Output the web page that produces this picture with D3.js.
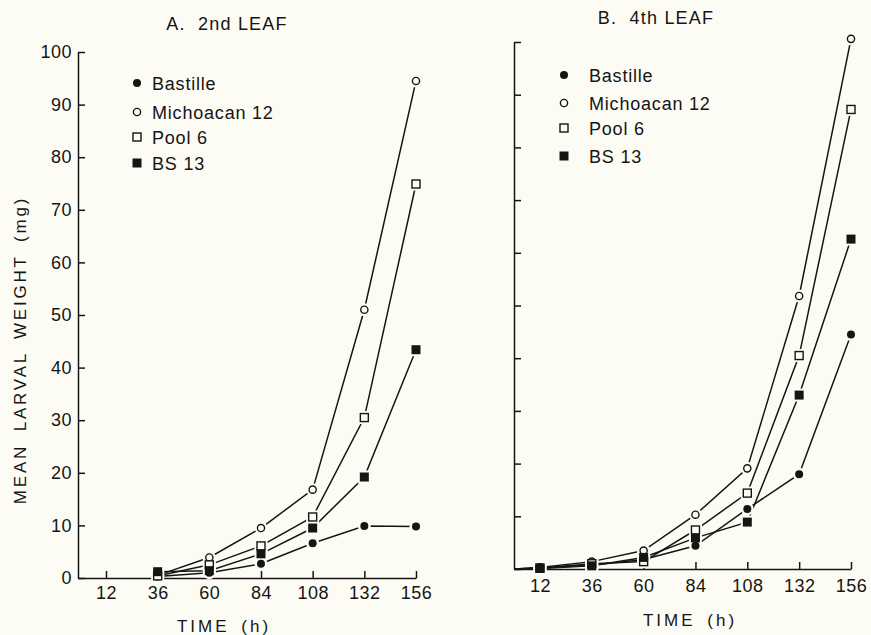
<!DOCTYPE html>
<html>
<head>
<meta charset="utf-8">
<script src="https://cdn.jsdelivr.net/npm/d3@7"></script>
<style>
  html, body { margin: 0; padding: 0; background: #fdfcf4; }
  svg { display: block; }
  text { font-family: "Liberation Sans", Arial, sans-serif; fill: #151515; }
  .tick text { font-size: 18px; letter-spacing: 0.5px; }
  .domain, .tick line { stroke: #151515; stroke-width: 1.5px; }
</style>
</head>
<body>
<svg id="chart" width="871" height="635"></svg>
<script>
// Mean larval weight (mg) over time (h) on two leaf positions
const seriesNames = ["Bastille", "Michoacan 12", "Pool 6", "BS 13"];
const symbolKinds = ["dot", "circle", "square", "filledSquare"];
const xTickValues = [12, 36, 60, 84, 108, 132, 156];
const yTickValues = [0, 10, 20, 30, 40, 50, 60, 70, 80, 90, 100];

// A. 2nd leaf
const leaf2Times = [36, 60, 84, 108, 132, 156];
const leaf2Bastille = [0.3, 1.0, 2.7, 6.6, 9.9, 9.8];
const leaf2Michoacan = [0.5, 3.9, 9.5, 16.8, 51.0, 94.5];
const leaf2Pool6 = [0.4, 2.5, 6.1, 11.6, 30.5, 74.9];
const leaf2BS13 = [1.2, 1.4, 4.6, 9.5, 19.2, 43.4];

// B. 4th leaf (lines start from the origin)
const leaf4Times = [0, 12, 36, 60, 84, 108, 132, 156];
const leaf4Bastille = [0, 0.2, 0.7, 1.8, 4.4, 11.4, 18.0, 44.5];
const leaf4Michoacan = [0, 0.3, 1.4, 3.5, 10.3, 19.1, 51.8, 100.6];
const leaf4Pool6 = [0, 0.2, 1.0, 1.4, 7.4, 14.4, 40.5, 87.2];
const leaf4BS13 = [0, 0.1, 0.6, 2.2, 5.9, 8.9, 33.0, 62.6];

const BG = "#fdfcf4";
const INK = "#151515";
const svg = d3.select("#chart");

const panels = [
  {
    title: "A.  2nd LEAF", titleX: 227, titleY: 30,
    times: leaf2Times,
    values: [leaf2Bastille, leaf2Michoacan, leaf2Pool6, leaf2BS13],
    xRange: [78, 416], xDomain: [-1, 156], yRange: [578, 52],
    showYLabels: true, xPad: 8,
    legend: { symX: 137, textX: 152, rows: [83, 112, 137, 163] },
    xLabelX: 224, xLabelY: 632
  },
  {
    title: "B.  4th LEAF", titleX: 656, titleY: 24,
    times: leaf4Times,
    values: [leaf4Bastille, leaf4Michoacan, leaf4Pool6, leaf4BS13],
    xRange: [514, 851], xDomain: [0, 156], yRange: [569, 42],
    showYLabels: false, xPad: 10,
    legend: { symX: 564, textX: 589, rows: [75, 103, 128, 156] },
    xLabelX: 690, xLabelY: 626
  }
];

function drawSymbol(g, kind, cx, cy, halo) {
  const s = 8;
  if (halo) {
    if (kind === "dot" || kind === "circle") {
      g.append("circle").attr("cx", cx).attr("cy", cy).attr("r", 6.5).attr("fill", BG);
    } else {
      g.append("rect").attr("x", cx - s / 2 - 2.5).attr("y", cy - s / 2 - 2.5)
        .attr("width", s + 5).attr("height", s + 5).attr("fill", BG);
    }
    return;
  }
  if (kind === "dot") {
    g.append("circle").attr("cx", cx).attr("cy", cy).attr("r", 4).attr("fill", INK);
  } else if (kind === "circle") {
    g.append("circle").attr("cx", cx).attr("cy", cy).attr("r", 3.6)
      .attr("fill", BG).attr("stroke", INK).attr("stroke-width", 1.4);
  } else if (kind === "square") {
    g.append("rect").attr("x", cx - s / 2).attr("y", cy - s / 2)
      .attr("width", s).attr("height", s)
      .attr("fill", BG).attr("stroke", INK).attr("stroke-width", 1.4);
  } else {
    g.append("rect").attr("x", cx - s / 2 - 0.5).attr("y", cy - s / 2 - 0.5)
      .attr("width", s + 1).attr("height", s + 1).attr("fill", INK);
  }
}

panels.forEach(p => {
  const x = d3.scaleLinear().domain(p.xDomain).range(p.xRange);
  const y = d3.scaleLinear().domain([0, 100]).range(p.yRange);
  const g = svg.append("g");

  // axes with inward ticks
  const yAxis = d3.axisLeft(y).tickValues(yTickValues)
    .tickSize(-7).tickSizeOuter(0).tickPadding(6);
  if (!p.showYLabels) yAxis.tickFormat("");
  g.append("g").attr("transform", `translate(${p.xRange[0]},0)`).call(yAxis);

  const xAxis = d3.axisBottom(x).tickValues(xTickValues)
    .tickSize(-7).tickSizeOuter(0).tickPadding(p.xPad);
  g.append("g").attr("transform", `translate(0,${p.yRange[0]})`).call(xAxis);

  // title
  g.append("text").attr("x", p.titleX).attr("y", p.titleY)
    .attr("text-anchor", "middle").attr("font-size", 18)
    .style("letter-spacing", "1.2px").style("white-space", "pre")
    .text(p.title);

  // x axis label
  g.append("text").attr("x", p.xLabelX).attr("y", p.xLabelY)
    .attr("text-anchor", "middle").attr("font-size", 17)
    .style("letter-spacing", "3px").style("word-spacing", "4px")
    .text("TIME (h)");

  // series lines
  const line = d3.line().x(d => x(d[0])).y(d => y(d[1]));
  const seriesPts = p.values.map(vals => p.times.map((t, i) => [t, vals[i]]));
  seriesPts.forEach(pts => {
    g.append("path").datum(pts).attr("d", line)
      .attr("fill", "none").attr("stroke", INK).attr("stroke-width", 1.5);
  });

  // markers (the origin point only anchors the line)
  const halos = g.append("g");
  const marks = g.append("g");
  seriesPts.forEach((pts, si) => {
    pts.filter(d => d[0] > 0).forEach(d => {
      drawSymbol(halos, symbolKinds[si], x(d[0]), y(d[1]), true);
    });
  });
  seriesPts.forEach((pts, si) => {
    pts.filter(d => d[0] > 0).forEach(d => {
      drawSymbol(marks, symbolKinds[si], x(d[0]), y(d[1]), false);
    });
  });

  // legend
  seriesNames.forEach((name, i) => {
    const cy = p.legend.rows[i];
    drawSymbol(g, symbolKinds[i], p.legend.symX, cy, false);
    g.append("text").attr("x", p.legend.textX).attr("y", cy + 6.5)
      .attr("font-size", 18).style("letter-spacing", "0.8px")
      .text(name);
  });
});

// shared y axis title
svg.append("text")
  .attr("transform", "translate(26,350) rotate(-90)")
  .attr("text-anchor", "middle").attr("font-size", 17)
  .style("letter-spacing", "2.8px").style("word-spacing", "5px")
  .text("MEAN LARVAL WEIGHT (mg)");
</script>
</body>
</html>
